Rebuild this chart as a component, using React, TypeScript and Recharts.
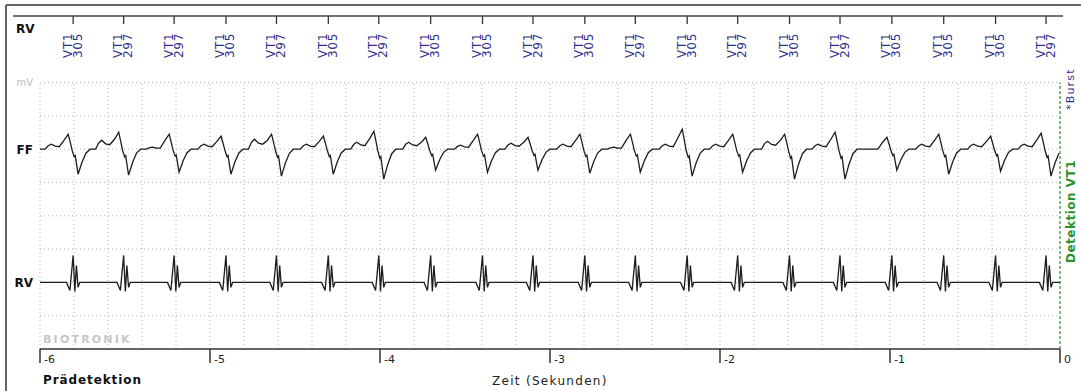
import { LineChart, Line, XAxis, YAxis, ReferenceLine } from "recharts";

// marker channel (top): detected intervals in ms, one per sensed beat
const markerIntervals = [
  305, 297, 297, 305, 297, 305, 297, 305, 305, 297,
  305, 297, 305, 297, 305, 297, 305, 305, 305, 297,
];
const markerZone = "VT1";
const firstMarkerTime = -5.805; // seconds before detection

// time axis
const secondTicks = [-6, -5, -4, -3, -2, -1, 0];

// channel baselines (grid units) and their names
const channelLevels = [2, 6, 8];
const channelLabels = ["RV", "FF", "mV"];
const FF_BASE = 6;
const RV_BASE = 2;

// far-field beat, read per beat (grid units)
const ffHump = [
  0.15, 0.27, 0.06, 0.15, 0.3, 0.15, 0.21, 0.21, 0.12, 0.18,
  0.15, 0.06, 0.15, 0.15, 0.24, 0.15, 0, 0.15, 0.15, 0.15,
];
const ffPeak = [
  0.45, 0.51, 0.45, 0.39, 0.45, 0.39, 0.54, 0.36, 0.45, 0.36,
  0.45, 0.45, 0.6, 0.45, 0.45, 0.51, 0.36, 0.45, 0.39, 0.48,
];
const ffTrough = [
  0.75, 0.78, 0.69, 0.75, 0.81, 0.75, 0.9, 0.63, 0.69, 0.63,
  0.72, 0.69, 0.81, 0.69, 0.9, 0.9, 0.63, 0.75, 0.66, 0.81,
];

// far-field complex shape around the marker (ms offset, which part, gain)
const ffShapeMs = [-165, -147, -129, -106, -82, -53, -29, -18, -6, 6, 12, 21, 29, 41, 53, 76, 100];
const ffShapePart = ["h", "h", "h", "h", "h", "p", "p", "p", "q", "q", "q", "q", "q", "q", "q", "q", "q"];
const ffShapeGain = [0, 0.7, 1, 0.6, 0.5, 0.6, 1, 0.5, 0.05, 0.3, 0.25, 0.65, 1, 0.75, 0.5, 0.15, 0];

// RV near-field spike shape around the marker
const rvShapeMs = [-39, -19, 0, 10, 19, 29, 39];
const rvShapeValue = [0, -0.24, 0.81, -0.27, 0.51, -0.15, 0];

const markerTimes: number[] = [];
markerIntervals.forEach((ms, i) => {
  markerTimes.push(i === 0 ? firstMarkerTime : markerTimes[i - 1] + ms / 1000);
});

const ffData: { t: number; v: number }[] = [{ t: -6, v: FF_BASE }];
const rvData: { t: number; v: number }[] = [{ t: -6, v: RV_BASE }];
markerTimes.forEach((mt, i) => {
  ffShapeMs.forEach((ms, j) => {
    const t = mt + ms / 1000;
    if (t > 0) return;
    const part = ffShapePart[j];
    const amp = part === "h" ? ffHump[i] : part === "p" ? ffPeak[i] : -ffTrough[i];
    ffData.push({ t, v: FF_BASE + ffShapeGain[j] * amp });
  });
  rvShapeMs.forEach((ms, j) => {
    const t = mt + ms / 1000;
    if (t > 0) return;
    rvData.push({ t, v: RV_BASE + rvShapeValue[j] });
  });
});
rvData.push({ t: 0, v: RV_BASE });

const gridRows = [1, 2, 3, 4, 5, 6, 7, 8];
const gridCols: number[] = [];
for (let k = 0; k < 30; k++) gridCols.push(-6 + k * 0.2);

const FONT = "'DejaVu Sans', Verdana, sans-serif";
const BLUE = "#31318c";
const GREEN = "#2b922b";
const DOTS = { stroke: "#b4b4b4", strokeDasharray: "1 3", strokeWidth: 1 };

function MarkerTick(props: any) {
  const { x, y, index } = props;
  return (
    <g>
      <line x1={x} x2={x} y1={y} y2={y + 8} stroke="#333" strokeWidth={1.3} />
      <text
        transform={`translate(${x - 1.5},${y + 42}) rotate(-90)`}
        fontFamily={FONT}
        fontSize={12}
        fill={BLUE}
        style={{ letterSpacing: "0.7px" }}
      >
        {markerZone}
      </text>
      <text
        transform={`translate(${x + 8.5},${y + 42}) rotate(-90)`}
        fontFamily={FONT}
        fontSize={12}
        fill={BLUE}
        style={{ letterSpacing: "0.7px" }}
      >
        {markerIntervals[index]}
      </text>
    </g>
  );
}

function TimeTick(props: any) {
  const { x, y, payload } = props;
  return (
    <g>
      <line x1={x} x2={x} y1={y} y2={y + 14} stroke="#333" strokeWidth={1.5} />
      <text x={x + 4} y={y + 14} fontFamily={FONT} fontSize={11} fill="#222">
        {String(payload.value)}
      </text>
    </g>
  );
}

function ChannelTick(props: any) {
  const { x, y, payload } = props;
  const name = channelLabels[channelLevels.indexOf(payload.value)];
  const isUnit = name === "mV";
  return (
    <text
      x={x}
      y={y}
      dy="0.36em"
      textAnchor="end"
      fontFamily={FONT}
      fontSize={isUnit ? 10 : 12}
      fontWeight={isUnit ? 400 : 700}
      fill={isUnit ? "#bdbdbd" : "#111"}
    >
      {name}
    </text>
  );
}

export default function App() {
  return (
    <div
      style={{
        position: "absolute",
        left: 0,
        top: 0,
        width: 1081,
        height: 391,
        background: "#fff",
      }}
    >
      <LineChart
        width={1081}
        height={391}
        margin={{ top: 15, right: 21, bottom: 41, left: 39 }}
      >
        <XAxis
          xAxisId="time"
          type="number"
          dataKey="t"
          domain={[-6, 0]}
          ticks={secondTicks}
          interval={0}
          allowDataOverflow
          height={1}
          tickSize={0}
          tickMargin={0}
          tickLine={false}
          axisLine={{ stroke: "#333", strokeWidth: 1.5 }}
          tick={<TimeTick />}
        />
        <XAxis
          xAxisId="marker"
          orientation="top"
          type="number"
          dataKey="t"
          domain={[-6, 0]}
          ticks={markerTimes}
          interval={0}
          allowDataOverflow
          height={1}
          tickSize={0}
          tickMargin={0}
          tickLine={false}
          axisLine={false}
          tick={<MarkerTick />}
        />
        <YAxis
          type="number"
          domain={[0, 10]}
          ticks={channelLevels}
          interval={0}
          allowDataOverflow
          width={1}
          tickSize={0}
          tickMargin={7}
          tickLine={false}
          axisLine={false}
          tick={<ChannelTick />}
        />
        {gridRows.map((r) => (
          <ReferenceLine key={`r${r}`} xAxisId="time" y={r} {...DOTS} />
        ))}
        {gridCols.map((c, k) => (
          <ReferenceLine
            key={`c${k}`}
            xAxisId="time"
            segment={[
              { x: c, y: 0 },
              { x: c, y: 8 },
            ]}
            {...DOTS}
          />
        ))}
        <ReferenceLine
          xAxisId="time"
          segment={[
            { x: 0, y: 0 },
            { x: 0, y: 8 },
          ]}
          stroke={GREEN}
          strokeDasharray="3 2"
          strokeWidth={1.2}
        />
        <Line
          xAxisId="time"
          data={ffData}
          dataKey="v"
          type="linear"
          stroke="#1c1c1c"
          strokeWidth={1.3}
          dot={false}
          isAnimationActive={false}
        />
        <Line
          xAxisId="time"
          data={rvData}
          dataKey="v"
          type="linear"
          stroke="#1c1c1c"
          strokeWidth={1.3}
          dot={false}
          isAnimationActive={false}
        />
      </LineChart>
      <svg
        width={1081}
        height={391}
        style={{ position: "absolute", left: 0, top: 0, pointerEvents: "none" }}
      >
        <line x1={6} x2={6} y1={5} y2={391} stroke="#666" strokeWidth={2} />
        <line x1={6} x2={1081} y1={5} y2={5} stroke="#666" strokeWidth={2} />
        <line x1={13} x2={1063} y1={16} y2={16} stroke="#444" strokeWidth={1.5} />
        <text x={16} y={33} fontFamily={FONT} fontSize={12} fontWeight={700} fill="#111">
          RV
        </text>
        <text
          x={43}
          y={343}
          fontFamily={FONT}
          fontSize={11}
          fontWeight={700}
          fill="#c6c6c6"
          style={{ letterSpacing: "2.2px" }}
        >
          BIOTRONIK
        </text>
        <text
          x={43}
          y={384}
          fontFamily={FONT}
          fontSize={12}
          fontWeight={700}
          fill="#111"
          style={{ letterSpacing: "0.9px" }}
        >
          Prädetektion
        </text>
        <text
          x={492}
          y={385}
          fontFamily={FONT}
          fontSize={12}
          fill="#222"
          style={{ letterSpacing: "1.3px" }}
        >
          Zeit (Sekunden)
        </text>
        <text
          transform="translate(1074,110) rotate(-90)"
          fontFamily={FONT}
          fontSize={11}
          fill={BLUE}
          style={{ letterSpacing: "1.2px" }}
        >
          *Burst
        </text>
        <text
          transform="translate(1075,263) rotate(-90)"
          fontFamily={FONT}
          fontSize={12}
          fontWeight={700}
          fill={GREEN}
          style={{ letterSpacing: "0.5px" }}
        >
          Detektion VT1
        </text>
      </svg>
    </div>
  );
}
